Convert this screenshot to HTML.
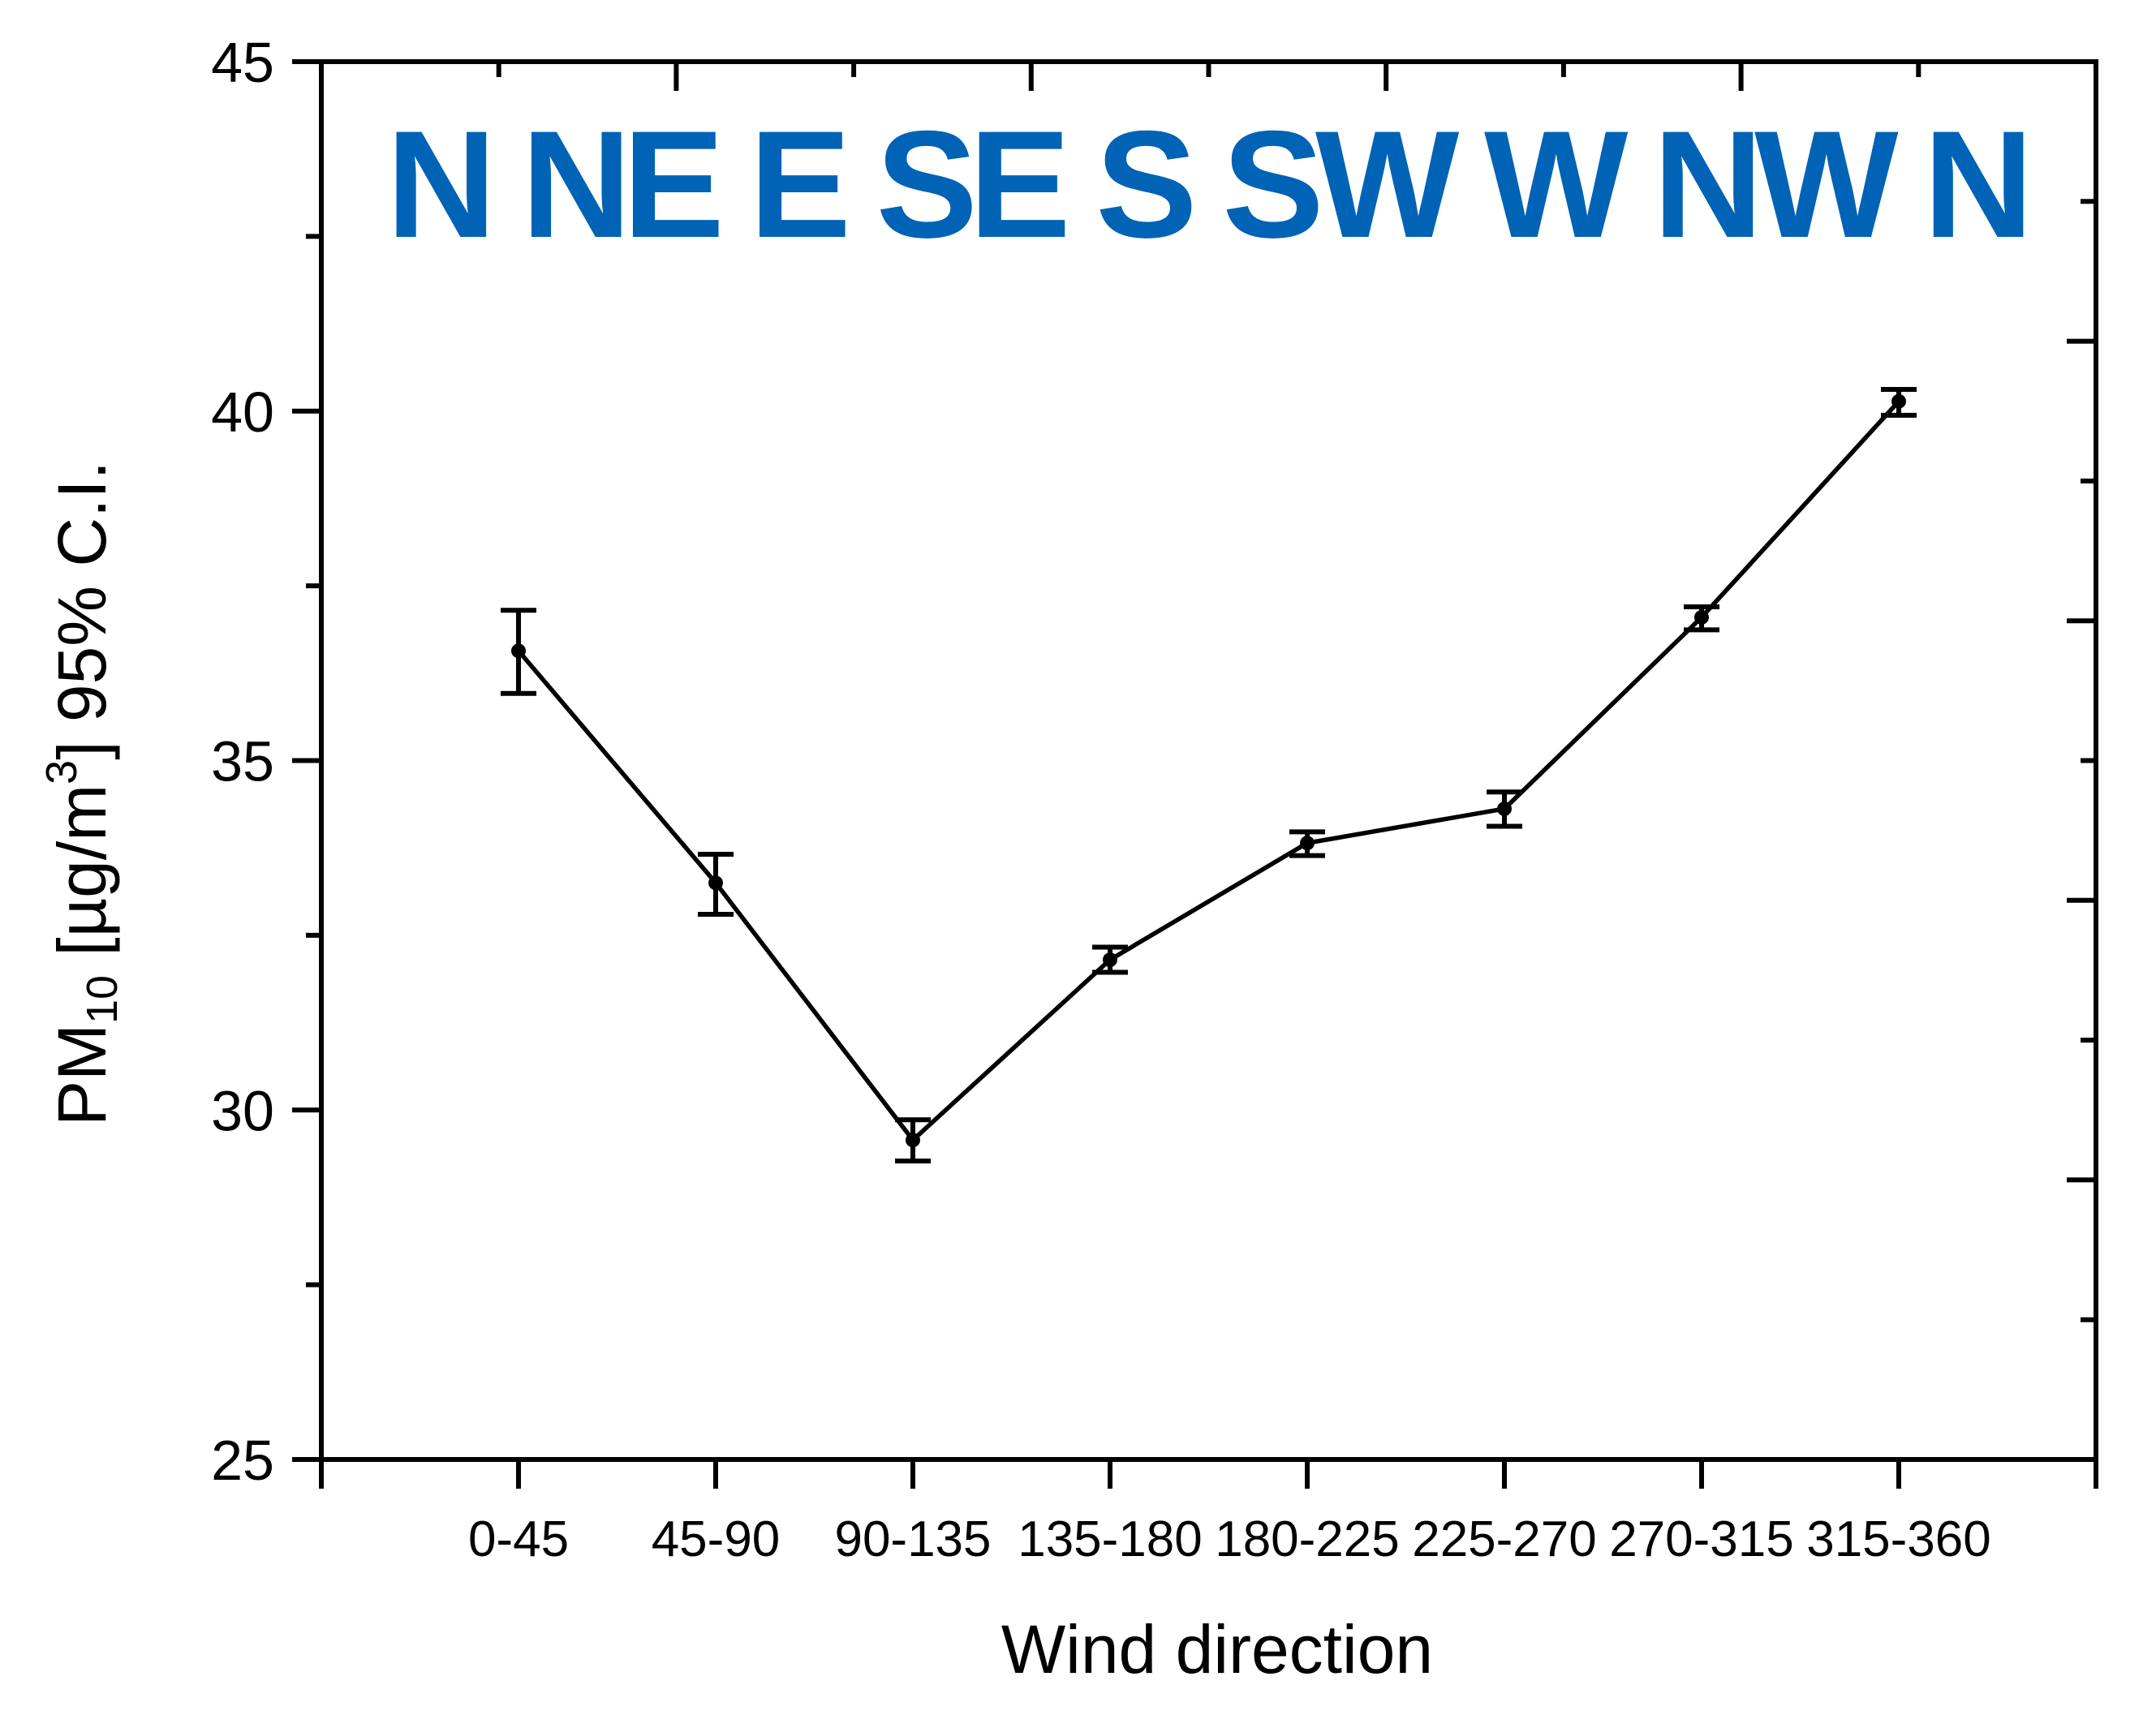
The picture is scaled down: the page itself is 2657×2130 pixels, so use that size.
<!DOCTYPE html>
<html><head><meta charset="utf-8"><style>
html,body{margin:0;padding:0;background:#fff;}
svg{display:block;}
text{font-family:"Liberation Sans",Arial,sans-serif;}
</style></head><body>
<svg id="chart" width="2657" height="2130" viewBox="0 0 2657 2130" xmlns="http://www.w3.org/2000/svg">
<g id="plot"></g>
<text x="476" y="292" font-size="188" font-weight="bold" fill="#0063b5" textLength="2030" lengthAdjust="spacing">N NE E SE S SW W NW N</text>
<text x="1500" y="2062" font-size="84" text-anchor="middle" fill="#000">Wind direction</text>
<text transform="translate(130,978) rotate(-90)" font-size="84" text-anchor="middle" fill="#000">PM<tspan font-size="54" dy="14">10</tspan><tspan dy="-14"> [µg/m</tspan><tspan font-size="54" dy="-36">3</tspan><tspan dy="36">] 95% C.I.</tspan></text>
</svg>
<script>
const categories = ["0-45","45-90","90-135","135-180","180-225","225-270","270-315","315-360"];
const means = [36.57, 33.25, 29.57, 32.15, 33.82, 34.31, 37.05, 40.14];
const upper = [37.15, 33.66, 29.86, 32.33, 33.98, 34.55, 37.2, 40.31];
const lower = [35.96, 32.8, 29.27, 31.97, 33.64, 34.06, 36.87, 39.94];
const yTicks = [25, 30, 35, 40, 45];

const NS = "http://www.w3.org/2000/svg";
const L = 396, R = 2583, T = 76, B = 1799;
const yMin = 25, yMax = 45;
const xScale = i => L + (i + 1) * (R - L) / (categories.length + 1);
const yScale = v => B - (v - yMin) / (yMax - yMin) * (B - T);
const plot = document.getElementById('plot');
function mk(tag, attrs) {
  const e = document.createElementNS(NS, tag);
  for (const k in attrs) e.setAttribute(k, attrs[k]);
  plot.appendChild(e);
  return e;
}
function line(x1, y1, x2, y2, w) {
  return mk('line', {x1, y1, x2, y2, stroke: '#000', 'stroke-width': w || 6});
}
let el;
el = line(L - 36, T, R + 3, T);  
el = line(R, T, R, B + 36);  
el = line(L - 36, B, R, B);  
el = line(L, T, L, B + 36);  
const minorStep = 2.5;
for (let v = yMin; v <= yMax + 0.001; v += minorStep) {
  const y = yScale(v);
  const major = yTicks.includes(v);
  el = line(major ? L - 36 : L - 19, y, L, y);
  
  
}
yTicks.forEach(v => {
  const t = mk('text', {x: 338, y: yScale(v) + 25, 'font-size': 70, 'text-anchor': 'end', fill: '#000'});
  t.textContent = v;
  
  
});
for (let k = 1; k < 10; k++) {
  const v = yMin + k * 2;
  const y = yScale(v);
  el = line(R - (k % 2 === 0 ? 36 : 19), y, R, y);
  
  
}
for (let k = 1; k < 10; k++) {
  const x = L + k * (R - L) / 10;
  el = line(x, T, x, T + (k % 2 === 0 ? 36 : 19));
  
  
}
for (let i = -1; i <= categories.length; i++) {
  const x = xScale(i);
  el = line(x, B, x, B + 36);
  
  
}
categories.forEach((c, i) => {
  const t = mk('text', {x: xScale(i), y: 1918, 'font-size': 62, 'text-anchor': 'middle', fill: '#000'});
  t.textContent = c;
  
  
});
const pts = means.map((m, i) => xScale(i) + ',' + yScale(m)).join(' ');
el = mk('polyline', {points: pts, fill: 'none', stroke: '#000', 'stroke-width': 5.5});


means.forEach((m, i) => {
  const x = xScale(i);
  el = line(x, yScale(upper[i]), x, yScale(lower[i]), 6);
  
  
  el = line(x - 22, yScale(upper[i]), x + 22, yScale(upper[i]), 6);
  
  
  el = line(x - 22, yScale(lower[i]), x + 22, yScale(lower[i]), 6);
  
  
  el = mk('circle', {cx: x, cy: yScale(m), r: 9, fill: '#000'});
  
  
});
</script>
</body></html>
